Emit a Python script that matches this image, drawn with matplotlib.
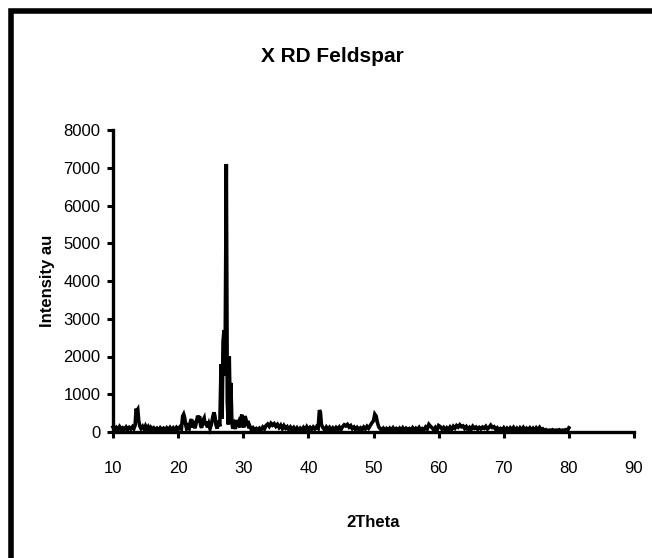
import matplotlib
matplotlib.use("Agg")
import matplotlib.pyplot as plt
from matplotlib.patches import Rectangle

plt.rcParams['font.family'] = ['Liberation Sans Narrow', 'Liberation Sans', 'DejaVu Sans']

two_theta = [10.0, 10.25, 10.5, 10.75, 11.0, 11.25, 11.5, 11.75, 12.0, 12.25, 12.5, 12.75, 13.0, 13.2,
             13.4, 13.55, 13.65, 13.8, 13.95, 14.1, 14.3, 14.55, 14.8, 15.0, 15.2, 15.4, 15.6, 15.8,
             16.0, 16.25, 16.5, 16.75, 17.0, 17.25, 17.5, 17.75, 18.0, 18.25, 18.5, 18.75, 19.0,
             19.25, 19.5, 19.75, 20.0, 20.25, 20.5, 20.7, 20.85, 21.0, 21.15, 21.3, 21.5, 21.7, 21.9,
             22.05, 22.2, 22.4, 22.6, 22.8, 23.0, 23.15, 23.3, 23.45, 23.6, 23.8, 24.0, 24.15, 24.3,
             24.5, 24.7, 24.9, 25.1, 25.3, 25.5, 25.65, 25.8, 26.0, 26.2, 26.4, 26.6, 26.75, 26.9,
             27.05, 27.2, 27.4, 27.55, 27.7, 27.85, 28.0, 28.1, 28.25, 28.4, 28.6, 28.8, 28.95, 29.1,
             29.3, 29.5, 29.65, 29.8, 29.95, 30.1, 30.25, 30.4, 30.55, 30.7, 30.85, 31.0, 31.25, 31.5,
             31.75, 32.0, 32.25, 32.5, 32.75, 33.0, 33.25, 33.5, 33.75, 34.0, 34.25, 34.5, 34.75, 35.0,
             35.25, 35.5, 35.75, 36.0, 36.25, 36.5, 36.75, 37.0, 37.25, 37.5, 37.75, 38.0, 38.25,
             38.5, 38.75, 39.0, 39.25, 39.5, 39.75, 40.0, 40.25, 40.5, 40.75, 41.0, 41.25, 41.5,
             41.7, 41.85, 42.0, 42.2, 42.5, 42.75, 43.0, 43.25, 43.5, 43.75, 44.0, 44.25, 44.5, 44.75,
             45.0, 45.25, 45.5, 45.75, 46.0, 46.25, 46.5, 46.75, 47.0, 47.25, 47.5, 47.75, 48.0,
             48.25, 48.5, 48.75, 49.0, 49.25, 49.5, 49.75, 50.0, 50.2, 50.4, 50.6, 50.8, 51.0, 51.25,
             51.5, 51.75, 52.0, 52.25, 52.5, 52.75, 53.0, 53.25, 53.5, 53.75, 54.0, 54.25, 54.5,
             54.75, 55.0, 55.25, 55.5, 55.75, 56.0, 56.25, 56.5, 56.75, 57.0, 57.25, 57.5, 57.75,
             58.0, 58.25, 58.5, 58.75, 59.0, 59.25, 59.5, 59.75, 60.0, 60.25, 60.5, 60.75, 61.0,
             61.25, 61.5, 61.75, 62.0, 62.25, 62.5, 62.75, 63.0, 63.25, 63.5, 63.75, 64.0, 64.25,
             64.5, 64.75, 65.0, 65.25, 65.5, 65.75, 66.0, 66.25, 66.5, 66.75, 67.0, 67.25, 67.5,
             67.75, 68.0, 68.25, 68.5, 68.75, 69.0, 69.25, 69.5, 69.75, 70.0, 70.25, 70.5, 70.75,
             71.0, 71.25, 71.5, 71.75, 72.0, 72.25, 72.5, 72.75, 73.0, 73.25, 73.5, 73.75, 74.0,
             74.25, 74.5, 74.75, 75.0, 75.25, 75.5, 75.75, 76.0, 76.25, 76.5, 76.75, 77.0, 77.25,
             77.5, 77.75, 78.0, 78.25, 78.5, 78.75, 79.0, 79.25, 79.5, 79.75, 80.0]
intensity = [130, 60, 120, 70, 140, 60, 110, 70, 130, 60, 120, 80, 140, 90,
             180, 620, 560, 600, 300, 160, 90, 150, 70, 160, 90, 140, 60, 120,
             70, 110, 60, 100, 50, 110, 60, 100, 50, 110, 60, 120, 60,
             110, 50, 120, 70, 130, 80, 420, 470, 380, 200, 90, 160, 100, 280,
             340, 120, 200, 100, 260, 430, 360, 420, 180, 110, 300, 370, 180, 280,
             120, 220, 90, 200, 380, 520, 420, 200, 90, 300, 150, 1800, 350, 2400,
             2700, 1500, 7100, 800, 200, 2000, 500, 1300, 250, 90, 200, 80, 320, 150,
             250, 120, 380, 460, 200, 120, 420, 350, 160, 300, 100, 160, 60, 110,
             50, 90, 40, 100, 60, 130, 80, 170, 210, 150, 230, 180, 220, 150,
             200, 120, 180, 90, 170, 100, 140, 60, 130, 70, 120, 50, 110,
             40, 100, 50, 120, 60, 140, 70, 120, 60, 130, 80, 140, 100,
             580, 520, 200, 120, 60, 130, 60, 120, 50, 110, 60, 120, 70, 130,
             60, 140, 190, 160, 200, 130, 170, 90, 130, 60, 120, 70, 110,
             60, 130, 80, 150, 100, 170, 240, 300, 470, 420, 250, 140, 90, 50,
             100, 40, 90, 40, 100, 50, 110, 40, 90, 50, 100, 40, 110,
             50, 100, 60, 90, 40, 110, 50, 100, 60, 120, 50, 90, 60,
             130, 80, 200, 150, 110, 60, 120, 50, 170, 140, 80, 120, 50,
             110, 60, 130, 70, 150, 100, 170, 130, 190, 140, 160, 90, 140,
             60, 120, 70, 150, 100, 130, 70, 120, 80, 130, 100, 150, 80,
             120, 180, 120, 140, 70, 110, 40, 90, 50, 110, 40, 100, 50,
             110, 60, 120, 50, 100, 40, 110, 60, 120, 50, 100, 60, 110,
             50, 100, 40, 110, 60, 120, 50, 80, 30, 60, 30, 50, 40,
             60, 30, 50, 40, 60, 30, 50, 40, 60, 30, 110]

x_ticks = [10, 20, 30, 40, 50, 60, 70, 80, 90]
y_ticks = [0, 1000, 2000, 3000, 4000, 5000, 6000, 7000, 8000]

fig = plt.figure(figsize=(6.52, 5.58), dpi=100)
ax = fig.add_axes([113/652, 126/558, (634-113)/652, (432-130)/558])

ax.plot(two_theta, intensity, color='black', linewidth=2.6, clip_on=False,
        solid_joinstyle='miter')

ax.set_xlim(10, 90)
ax.set_ylim(0, 8000)
ax.set_xticks(x_ticks)
ax.set_yticks(y_ticks)
ax.tick_params(axis='both', direction='out', width=2.2, length=4, labelsize=12, color='black')
ax.tick_params(axis='x', pad=17)
ax.tick_params(axis='y', pad=5)

for s in ['top', 'right']:
    ax.spines[s].set_visible(False)
for s in ['left', 'bottom']:
    ax.spines[s].set_linewidth(2.4)

ax.set_xlabel('2Theta', fontsize=12, fontweight='bold', labelpad=28)
ax.set_ylabel('Intensity au', fontsize=12, fontweight='bold', labelpad=6)
fig.text(332/652, 1 - 56/558, 'X RD Feldspar', ha='center', va='center',
         fontsize=15, fontweight='bold')

# outer chart border (left and top edges visible)
fig.patches.append(Rectangle((10.5/652, -0.2), 1.2, (558-11)/558 + 0.2,
                             transform=fig.transFigure, fill=False,
                             edgecolor='black', linewidth=4))

fig.savefig('out.png', dpi=100)
